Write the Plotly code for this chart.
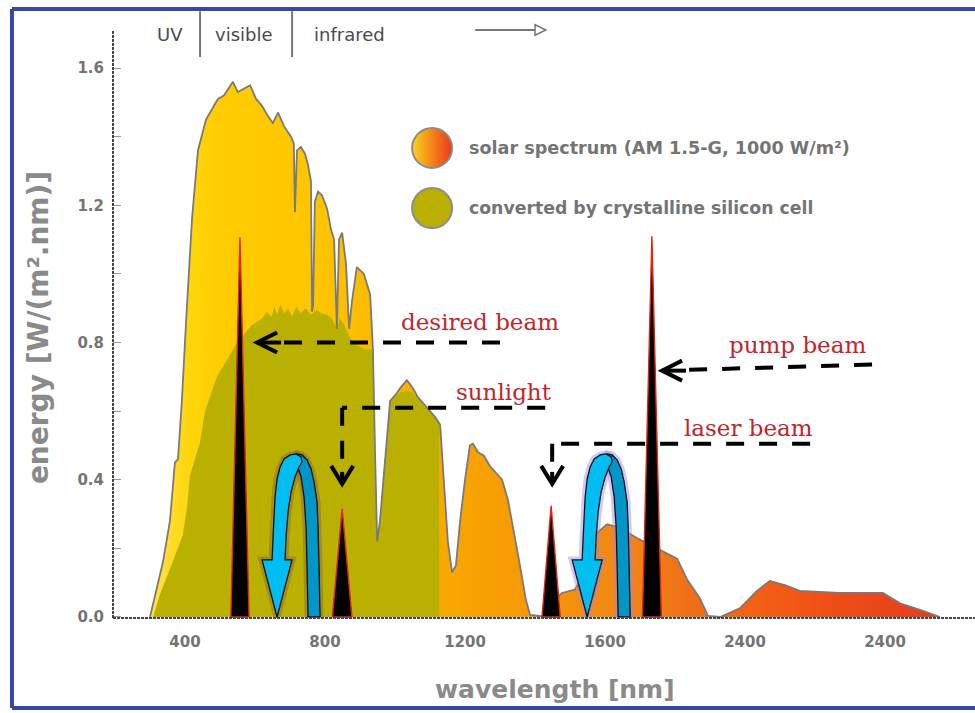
import plotly.graph_objects as go

# AM 1.5-G solar spectrum: wavelength [nm] and spectral irradiance [W/(m^2 nm)]
solar_nm = [300, 314, 337, 357, 371, 380, 391, 403, 420, 437,
            460, 477, 494, 511, 523, 537, 551, 569, 586, 603,
            620, 637, 651, 666, 683, 703, 711, 714, 720, 731,
            743, 751, 760, 763, 766, 771, 780, 791, 806, 817,
            826, 834, 840, 849, 860, 869, 877, 891, 911, 929,
            937, 943, 949, 957, 971, 986, 1003, 1017, 1034, 1049,
            1066, 1083, 1100, 1117, 1129, 1140, 1151, 1163, 1174, 1186,
            1200, 1214, 1223, 1237, 1254, 1271, 1289, 1306, 1323, 1340,
            1357, 1374, 1386, 1437, 1457, 1477, 1514, 1543, 1571, 1606,
            1643, 1691, 1729, 1766, 1806, 1834, 1871, 1894, 1929, 1986,
            2034, 2071, 2114, 2157, 2271, 2394, 2443, 2509, 2557]
solar_val = [0.0, 0.06, 0.16, 0.28, 0.45, 0.46, 0.63, 0.86, 1.16, 1.36,
             1.45, 1.48, 1.51, 1.52, 1.54, 1.56, 1.53, 1.54, 1.55, 1.51,
             1.49, 1.46, 1.44, 1.47, 1.43, 1.40, 1.38, 1.18, 1.36, 1.37,
             1.35, 1.32, 1.27, 0.89, 0.91, 1.21, 1.24, 1.23, 1.19, 1.13,
             1.10, 0.84, 1.10, 1.12, 1.03, 0.84, 0.92, 1.02, 1.00, 0.94,
             0.78, 0.48, 0.22, 0.28, 0.46, 0.63, 0.65, 0.67, 0.69, 0.67,
             0.64, 0.62, 0.60, 0.58, 0.56, 0.40, 0.22, 0.13, 0.15, 0.28,
             0.40, 0.50, 0.505, 0.48, 0.47, 0.44, 0.42, 0.40, 0.34, 0.25,
             0.15, 0.05, 0.006, 0.0, 0.05, 0.07, 0.08, 0.13, 0.24, 0.27,
             0.26, 0.23, 0.21, 0.19, 0.17, 0.11, 0.055, 0.003, 0.0, 0.026,
             0.076, 0.105, 0.093, 0.076, 0.07, 0.07, 0.04, 0.018, 0.0]

# share of the spectrum converted by a crystalline silicon cell
silicon_nm = [309, 329, 366, 394, 406, 414, 443, 457, 491, 520,
              549, 590, 620, 634, 648, 655, 663, 672, 684, 695,
              706, 718, 730, 745, 760, 775, 790, 806, 820, 834,
              842, 856, 869, 880, 895, 915, 937, 943, 949, 957,
              971, 986, 1003, 1017, 1034, 1049, 1066, 1083, 1100, 1117,
              1126, 1126]
silicon_val = [0, 0.067, 0.164, 0.24, 0.32, 0.41, 0.51, 0.60, 0.70, 0.75,
               0.80, 0.85, 0.87, 0.89, 0.875, 0.905, 0.88, 0.91, 0.885, 0.90,
               0.875, 0.905, 0.885, 0.90, 0.88, 0.895, 0.885, 0.88, 0.87, 0.84,
               0.87, 0.85, 0.82, 0.80, 0.79, 0.78, 0.78, 0.48, 0.22, 0.28,
               0.46, 0.63, 0.645, 0.655, 0.66, 0.655, 0.635, 0.615, 0.60, 0.58,
               0.565, 0]

# narrow beams: centre wavelength, peak height, half base width (nm)
beam_names = ["desired beam", "sunlight", "laser beam", "pump beam"]
beam_nm = [557, 849, 1446, 1734]
beam_peak = [1.107, 0.315, 0.324, 1.11]
beam_halfwidth = [26, 28, 26, 27]

# axis ticks
x_tickvals = [400, 800, 1200, 1600, 2000, 2400]
x_ticktext = ["400", "800", "1200", "1600", "2400", "2400"]
y_tickvals = [0.0, 0.2, 0.4, 0.6, 0.8, 1.0, 1.2, 1.4, 1.6]
y_ticktext = ["0.0", "", "0.4", "", "0.8", "", "1.2", "", "1.6"]

# ---------------------------------------------------------------- geometry
X_RANGE = [194.3, 2657.1]
Y_RANGE = [-0.003, 1.711]
PLOT_W, PLOT_H = 862, 588
NM_PER_PX = (X_RANGE[1] - X_RANGE[0]) / PLOT_W
VAL_PER_PX = (Y_RANGE[1] - Y_RANGE[0]) / PLOT_H

SANS = "DejaVu Sans"
SERIF = "DejaVu Serif"
GREY = "#747474"
TITLE_GREY = "#8a8a8a"
RED_TEXT = "#c3242b"
OLIVE = "#bab002"
FRAME_BLUE = "#3a46a6"

SOLAR_SCALE = [
    [0.000, "#ffe24a"], [0.050, "#ffd60a"], [0.090, "#ffcc00"],
    [0.200, "#fec600"], [0.270, "#fbbc00"], [0.330, "#f9b000"],
    [0.400, "#f8a400"], [0.500, "#f69508"], [0.600, "#f28614"],
    [0.680, "#f07018"], [0.760, "#f46214"], [0.850, "#ef5016"],
    [1.000, "#e63c1c"],
]

fig = go.Figure()

# solar spectrum area with its horizontal colour ramp
fig.add_trace(go.Scatter(
    x=solar_nm, y=solar_val, mode="none", fill="tozeroy",
    fillgradient=dict(type="horizontal", start=solar_nm[0], stop=solar_nm[-1],
                      colorscale=SOLAR_SCALE),
    hoverinfo="skip", showlegend=False))

# converted part
fig.add_trace(go.Scatter(
    x=silicon_nm, y=silicon_val, mode="none", fill="tozeroy",
    fillcolor=OLIVE, hoverinfo="skip", showlegend=False))

# spectrum outline on top
fig.add_trace(go.Scatter(
    x=solar_nm, y=solar_val, mode="lines",
    line=dict(color="#7a7a7a", width=1.8), hoverinfo="skip", showlegend=False))

# beams as slim black triangles with red edges
for name, c, h, w in zip(beam_names, beam_nm, beam_peak, beam_halfwidth):
    fig.add_trace(go.Scatter(
        x=[c - w, c, c + w, c - w], y=[0, h, 0, 0], mode="lines",
        fill="toself", fillcolor="black",
        line=dict(color="#e3260f", width=1.4), name=name,
        hoverinfo="skip", showlegend=False))

# legend discs
LEG_X = 1106
LEG_Y = [1.367, 1.192]
fig.add_trace(go.Scatter(
    x=[LEG_X], y=[LEG_Y[0]], mode="markers", hoverinfo="skip", showlegend=False,
    marker=dict(symbol="circle", size=40, color="#ffd21a",
                gradient=dict(type="horizontal", color="#e8381a"),
                line=dict(color="#8c8c8c", width=2))))
fig.add_trace(go.Scatter(
    x=[LEG_X], y=[LEG_Y[1]], mode="markers", hoverinfo="skip", showlegend=False,
    marker=dict(symbol="circle", size=40, color=OLIVE,
                line=dict(color="#8c8c8c", width=2))))

shapes = []
annotations = []


def poly_path(tip_nm, pts):
    """Closed path from pixel offsets (dx right, dy up) around a tip at y = 0."""
    coords = [(tip_nm + dx * NM_PER_PX, dy * VAL_PER_PX) for dx, dy in pts]
    return "M " + " L ".join(f"{x:.2f},{y:.5f}" for x, y in coords) + " Z"


# curved "recycling" arrows: a ribbon looping over and pointing down
FRONT = [(0, 0), (15, 57), (8, 57), (9, 80), (11, 105), (14, 125), (18, 140),
         (22, 150), (25, 155), (24, 160), (19, 163), (13, 162), (7, 158),
         (3, 150), (0, 138), (-2, 120), (-3, 100), (-4, 80), (-5, 57), (-15, 57)]
BACK = [(31, 0), (43, 0), (42, 50), (41, 90), (40, 115), (37, 135), (34, 148),
        (30, 157), (25, 162), (20, 163), (17, 160), (20, 152), (24, 140),
        (27, 120), (29, 90), (30, 50)]
arrow_tips = [663, 1549]
halo_colors = ["rgba(140,100,60,0.45)", "rgba(160,130,230,0.45)"]
for tip, halo in zip(arrow_tips, halo_colors):
    for pts in (BACK, FRONT):
        shapes.append(dict(type="path", xref="x", yref="y", layer="above",
                           path=poly_path(tip, pts), fillcolor="rgba(0,0,0,0)",
                           line=dict(color=halo, width=7)))
    shapes.append(dict(type="path", xref="x", yref="y", layer="above",
                       path=poly_path(tip, BACK), fillcolor="#0096c8",
                       line=dict(color="#111", width=1.3)))
    shapes.append(dict(type="path", xref="x", yref="y", layer="above",
                       path=poly_path(tip, FRONT), fillcolor="#00bdf2",
                       line=dict(color="#111", width=1.3)))

DASH = dict(color="black", width=4, dash="18px,15px")
HEAD = dict(color="black", width=4)


def dashed(x0, y0, x1, y1):
    shapes.append(dict(type="line", xref="x", yref="y", layer="above",
                       x0=x0, y0=y0, x1=x1, y1=y1, line=DASH))


def chevron(tx, ty, direction):
    dx, dy = 20 * NM_PER_PX, 10 * VAL_PER_PX
    if direction == "left":
        a, b = (tx + dx, ty + dy), (tx + dx, ty - dy)
    else:  # down
        dx, dy = 11 * NM_PER_PX, 18 * VAL_PER_PX
        a, b = (tx - dx, ty + dy), (tx + dx, ty + dy)
    shapes.append(dict(type="path", xref="x", yref="y", layer="above",
                       path=f"M {a[0]},{a[1]} L {tx},{ty} L {b[0]},{b[1]}",
                       line=HEAD))
    # short solid shaft behind the head
    if direction == "left":
        shapes.append(dict(type="line", xref="x", yref="y", layer="above",
                           x0=tx, y0=ty, x1=tx + 24 * NM_PER_PX, y1=ty, line=HEAD))
    else:
        shapes.append(dict(type="line", xref="x", yref="y", layer="above",
                           x0=tx, y0=ty, x1=tx, y1=ty + 12 * VAL_PER_PX, line=HEAD))


# desired beam
dashed(1300, 0.80, 670, 0.80)
chevron(606, 0.80, "left")
# sunlight
dashed(1429, 0.61, 849, 0.61)
dashed(849, 0.61, 849, 0.40)
chevron(849, 0.388, "down")
# laser beam
dashed(2186, 0.505, 1449, 0.505)
dashed(1449, 0.505, 1449, 0.40)
chevron(1449, 0.388, "down")
# pump beam
dashed(2363, 0.736, 1830, 0.72)
chevron(1763, 0.718, "left")

for txt, x, y in [("desired beam", 1243, 0.86), ("sunlight", 1311, 0.656),
                  ("laser beam", 2011, 0.551), ("pump beam", 2151, 0.793)]:
    annotations.append(dict(text=txt, x=x, y=y, xref="x", yref="y",
                            showarrow=False, xanchor="center", yanchor="middle",
                            font=dict(family=SERIF, size=23, color=RED_TEXT)))

# legend labels
annotations.append(dict(text="<b>solar spectrum (AM 1.5-G, 1000 W/m²)</b>",
                        x=1206, y=LEG_Y[0], xref="x", yref="y", showarrow=False,
                        xanchor="left", yanchor="middle",
                        font=dict(family=SANS, size=17.6, color=GREY)))
annotations.append(dict(text="<b>converted by crystalline silicon cell</b>",
                        x=1206, y=LEG_Y[1], xref="x", yref="y", showarrow=False,
                        xanchor="left", yanchor="middle",
                        font=dict(family=SANS, size=17.3, color=GREY)))

# band header above the plot
for txt, x in [("UV", 357), ("visible", 569), ("infrared", 869)]:
    annotations.append(dict(text=txt, x=x, y=0.993, xref="x", yref="paper",
                            showarrow=False, xanchor="center", yanchor="middle",
                            font=dict(family=SANS, size=18, color="#4a4a4a")))
for x in (443, 706):
    shapes.append(dict(type="line", xref="x", yref="paper", x0=x, x1=x,
                       y0=0.954, y1=1.032, line=dict(color="#777", width=2)))
shapes.append(dict(type="line", xref="x", yref="paper", x0=1229, x1=1400,
                   y0=1.0, y1=1.0, line=dict(color="#777", width=2)))
shapes.append(dict(type="path", xref="x", yref="paper",
                   path="M 1400,1.009 L 1431,1.0 L 1400,0.991 Z",
                   fillcolor="white", line=dict(color="#777", width=1.5)))

# axis titles
annotations.append(dict(text="<b>energy [W/(m².nm)]</b>", x=-0.087, y=0.493,
                        xref="paper", yref="paper", textangle=-90, showarrow=False,
                        xanchor="center", yanchor="middle",
                        font=dict(family=SANS, size=28, color=TITLE_GREY)))
annotations.append(dict(text="<b>wavelength [nm]</b>", x=0.513, y=-0.1224,
                        xref="paper", yref="paper", showarrow=False,
                        xanchor="center", yanchor="middle",
                        font=dict(family=SANS, size=25, color=TITLE_GREY)))

# axis lines
shapes.append(dict(type="line", xref="paper", yref="paper", x0=0, x1=0, y0=0, y1=1,
                   line=dict(color="#444", width=2, dash="3px,1px")))
shapes.append(dict(type="line", xref="paper", yref="paper", x0=0, x1=1, y0=0, y1=0,
                   line=dict(color="#444", width=2, dash="3px,1px")))

# blue frame
FL, FT, FB = -0.1172, 1.0357, -0.1531
frame = dict(color=FRAME_BLUE, width=4)
shapes.append(dict(type="line", xref="paper", yref="paper", x0=FL, x1=FL, y0=FB, y1=FT, line=frame))
shapes.append(dict(type="line", xref="paper", yref="paper", x0=FL, x1=1.01, y0=FT, y1=FT, line=frame))
shapes.append(dict(type="line", xref="paper", yref="paper", x0=FL, x1=1.01, y0=FB, y1=FB, line=frame))

fig.update_layout(
    width=975, height=713,
    margin=dict(l=113, r=0, t=30, b=95),
    paper_bgcolor="white", plot_bgcolor="white",
    showlegend=False,
    shapes=shapes, annotations=annotations,
    xaxis=dict(range=X_RANGE, showgrid=False, zeroline=False, showline=False,
               tickvals=x_tickvals, ticktext=x_ticktext, ticks="",
               ticklabelstandoff=13,
               tickfont=dict(family=SANS, size=15, color=GREY, weight="bold")),
    yaxis=dict(range=Y_RANGE, showgrid=False, zeroline=False, showline=False,
               tickvals=y_tickvals, ticktext=y_ticktext, ticks="inside",
               ticklen=8, tickcolor="#999", tickwidth=1, ticklabelstandoff=8,
               tickfont=dict(family=SANS, size=15, color=GREY, weight="bold")),
)

fig.write_html("out.html")
